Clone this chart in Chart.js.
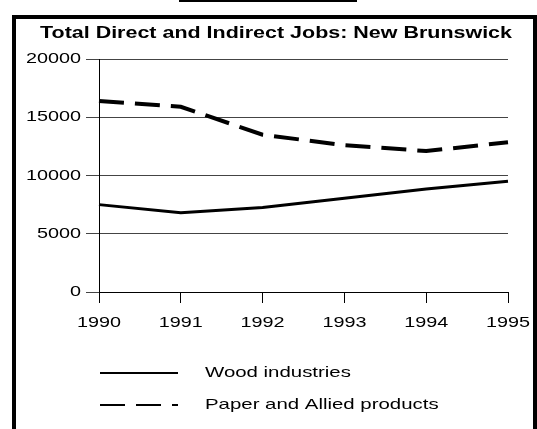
<!DOCTYPE html>
<html><head><meta charset="utf-8">
<script src="https://cdn.jsdelivr.net/npm/chart.js@4/dist/chart.umd.min.js"></script>
<style>html,body{margin:0;padding:0;background:#fff;overflow:hidden}</style>
</head><body>
<canvas id="c" width="537" height="429" style="display:block;width:537px;height:429px"></canvas>
<script>
const titleText = "Total Direct and Indirect Jobs: New Brunswick";
const years = ["1990", "1991", "1992", "1993", "1994", "1995"];
const woodIndustries = [7500, 6800, 7250, 8050, 8850, 9500];
const paperAllied = [16400, 15900, 13500, 12600, 12100, 12850];
const yTickValues = [0, 5000, 10000, 15000, 20000];
const seriesNames = ["Wood industries", "Paper and Allied products"];

const FONT = "'Liberation Sans', Arial, sans-serif";
const STRETCH = 1.32;
const LEGEND_STRETCH = 1.36;

function stretchedText(ctx, text, x, y, font, sx, align) {
  ctx.save();
  ctx.font = font;
  ctx.textBaseline = 'middle';
  ctx.textAlign = 'left';
  const w = ctx.measureText(text).width * sx;
  let left = x;
  if (align === 'center') left = x - w / 2;
  else if (align === 'right') left = x - w;
  ctx.translate(left, y);
  ctx.scale(sx, 1);
  ctx.fillText(text, 0, 0);
  ctx.restore();
}

const decor = {
  id: 'decor',
  afterDraw(chart) {
    const ctx = chart.ctx;
    ctx.save();
    ctx.fillStyle = '#000';
    // frame
    ctx.fillRect(12, 15, 4, 414);
    ctx.fillRect(12, 15, 525, 4);
    ctx.fillRect(533, 15, 4, 414);
    // small top tab line
    ctx.fillRect(179, 0, 178, 2);
    // title, fitted to its width in the reference
    ctx.font = "bold 17px " + FONT;
    const tw = ctx.measureText(titleText).width;
    stretchedText(ctx, titleText, 276, 33, "bold 17px " + FONT, 472 / tw, 'center');
    // tick labels placed through the scales
    const ys = chart.scales.y, xs = chart.scales.x;
    ys.ticks.forEach(t => {
      stretchedText(ctx, String(t.value), 81, ys.getPixelForValue(t.value), "15px " + FONT, STRETCH, 'right');
    });
    xs.ticks.forEach(t => {
      stretchedText(ctx, chart.data.labels[t.value], xs.getPixelForValue(t.value), 323, "15px " + FONT, STRETCH, 'center');
    });
    // legend
    const rows = [373, 405];
    chart.data.datasets.forEach((ds, i) => {
      const y = rows[i];
      ctx.beginPath();
      ctx.lineWidth = 2;
      ctx.strokeStyle = '#000';
      ctx.setLineDash(ds.borderDash || []);
      ctx.moveTo(100, y);
      ctx.lineTo(178, y);
      ctx.stroke();
      ctx.setLineDash([]);
      stretchedText(ctx, ds.label, 205, y, "15px " + FONT, LEGEND_STRETCH, 'left');
    });
    ctx.restore();
  }
};

new Chart(document.getElementById('c'), {
  type: 'line',
  data: {
    labels: years,
    datasets: [
      { label: seriesNames[0], data: woodIndustries, borderColor: '#000', borderWidth: 3, pointRadius: 0, tension: 0, fill: false },
      { label: seriesNames[1], data: paperAllied, borderColor: '#000', borderWidth: 4, borderDash: [25, 11], pointRadius: 0, tension: 0, fill: false }
    ]
  },
  options: {
    responsive: false,
    devicePixelRatio: 1,
    animation: false,
    layout: { padding: { left: 17, right: 29, top: 59, bottom: 0 } },
    plugins: { legend: { display: false }, title: { display: false }, tooltip: { enabled: false } },
    scales: {
      x: {
        type: 'category',
        offset: false,
        grid: { drawOnChartArea: false, drawTicks: true, tickLength: 11, color: '#000', lineWidth: 1 },
        border: { display: true, color: '#000', width: 1 },
        ticks: { display: false, autoSkip: false, maxRotation: 0 },
        afterFit(s) { s.height = 137; }
      },
      y: {
        min: 0, max: 20000,
        afterBuildTicks(s) { s.ticks = yTickValues.map(v => ({ value: v })); },
        grid: { color: '#444', lineWidth: 1, tickLength: 13 },
        border: { display: true, color: '#000', width: 1 },
        ticks: { display: false },
        afterFit(s) { s.width = 82; }
      }
    }
  },
  plugins: [decor]
});
</script>
</body></html>
